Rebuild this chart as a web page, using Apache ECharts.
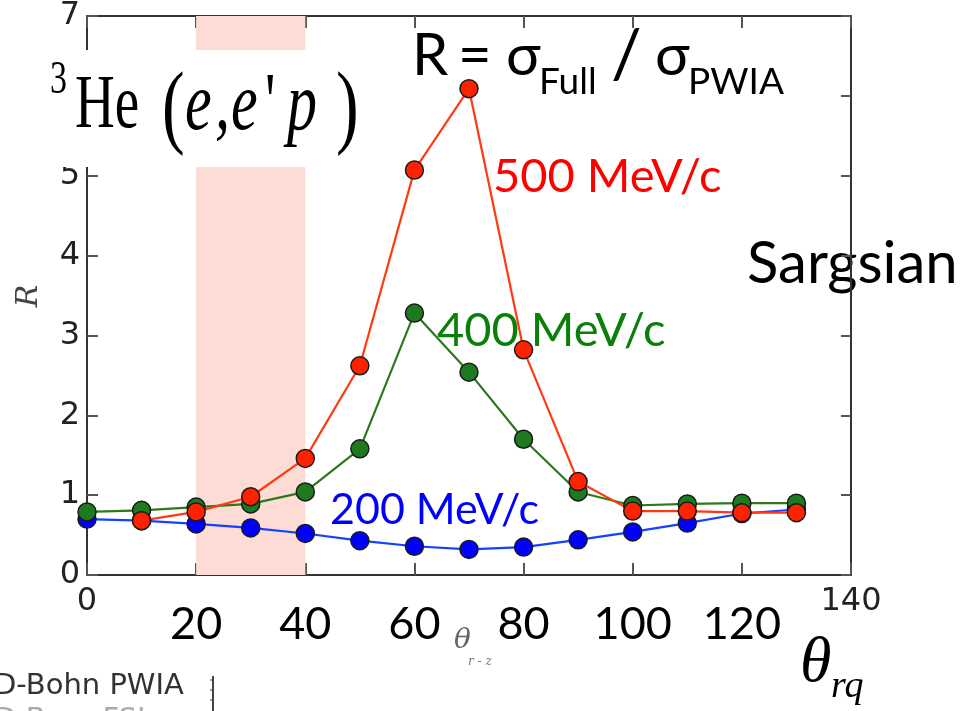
<!DOCTYPE html>
<html><head><meta charset="utf-8">
<script src="https://cdn.jsdelivr.net/npm/echarts@6/dist/echarts.min.js"></script>
<style>html,body{margin:0;padding:0;background:#fff}#c{width:979px;height:711px}</style>
</head><body><div id="c"></div>
<script>
var angles = [0,10,20,30,40,50,60,70,80,90,100,110,120,130];
var r200 = [0.70,0.68,0.64,0.59,0.52,0.43,0.36,0.32,0.35,0.44,0.54,0.65,0.77,0.82];
var r400 = [0.79,0.81,0.85,0.89,1.04,1.58,3.28,2.54,1.70,1.04,0.87,0.89,0.90,0.90];
var r500 = [null,0.68,0.79,0.98,1.46,2.62,5.07,6.09,2.82,1.17,0.80,0.80,0.78,0.78];
var xTicks = [0,20,40,60,80,100,120,140];
var yTicks = [0,1,2,3,4,5,6,7];
var bigXLabels = ['20','40','60','80','100','120'];

function pairs(arr){ return angles.map(function(a,i){ return [a, arr[i]]; }); }

var chart = echarts.init(document.getElementById('c'));
var axisCol = '#333';
function mkSeries(name, arr, line, fill){
  return {
    name: name, type: 'line', data: pairs(arr), xAxisIndex: 0, yAxisIndex: 0,
    symbol: 'circle', symbolSize: 18, connectNulls: false,
    lineStyle: {color: line, width: 2.2},
    itemStyle: {color: fill, borderColor: '#1a1a1a', borderWidth: 1.5},
    emphasis: {disabled: true}, animation: false
  };
}
var option = {
  animation: false,
  grid: {left: 87, right: 128, top: 16, bottom: 136},
  xAxis: [
    {type: 'value', min: 0, max: 140, interval: 20, position: 'bottom',
     axisLine: {show: true, onZero: false, lineStyle: {color: axisCol, width: 2}},
     axisTick: {show: true, inside: true, length: 12, lineStyle: {color: '#555', width: 2}},
     splitLine: {show: false},
     axisLabel: {margin: 11, fontFamily: 'DejaVu Sans', fontSize: 32, color: '#222',
       formatter: function(v){ return (v === 0 || v === 140) ? String(v) : ''; }}},
    {type: 'value', min: 0, max: 140, interval: 20, position: 'top',
     axisLine: {show: true, onZero: false, lineStyle: {color: axisCol, width: 2}},
     axisTick: {show: true, inside: true, length: 12, lineStyle: {color: '#555', width: 2}},
     splitLine: {show: false}, axisLabel: {show: false}},
    {type: 'value', min: 0, max: 140, interval: 20, position: 'bottom',
     axisLine: {show: false, onZero: false}, axisTick: {show: false}, splitLine: {show: false},
     axisLabel: {margin: 27, fontFamily: 'Lato', fontSize: 45, color: '#000',
       formatter: function(v){ var s = String(v); return bigXLabels.indexOf(s) >= 0 ? s : ''; }}}
  ],
  yAxis: [
    {type: 'value', min: 0, max: 7, interval: 1, position: 'left',
     axisLine: {show: true, onZero: false, lineStyle: {color: axisCol, width: 2}},
     axisTick: {show: true, inside: true, length: 11, lineStyle: {color: '#555', width: 2}},
     splitLine: {show: false},
     axisLabel: {margin: 7, fontFamily: 'DejaVu Sans', fontSize: 32, color: '#222'}},
    {type: 'value', min: 0, max: 7, interval: 1, position: 'right',
     axisLine: {show: true, onZero: false, lineStyle: {color: axisCol, width: 2}},
     axisTick: {show: true, inside: true, length: 10, lineStyle: {color: '#555', width: 2}},
     splitLine: {show: false}, axisLabel: {show: false}}
  ],
  series: [
    {type: 'line', data: [], xAxisIndex: 0, yAxisIndex: 0, silent: true,
     markArea: {silent: true, itemStyle: {color: '#fcdcd5'}, data: [[{xAxis: 20}, {xAxis: 40}]]}},
    mkSeries('200', r200, '#1440ff', '#0000ff'),
    mkSeries('400', r400, '#2a7a1a', '#1e7a1e'),
    mkSeries('500', r500, '#ff3a12', '#ff2200')
  ],
  graphic: [
    {type: 'text', z: 0, x: 493, y: 177, style: {text: '500 MeV/c', font: '47px Lato', fill: '#ff0000', verticalAlign: 'middle'}},
    {type: 'text', z: 0, x: 437, y: 331, style: {text: '400 MeV/c', font: '47px Lato', fill: '#0a800a', verticalAlign: 'middle'}},
    {type: 'text', z: 0, x: 330, y: 510, style: {text: '200 MeV/c', font: '43px Lato', fill: '#0000ff', verticalAlign: 'middle'}},
    {type: 'text', z: 0, x: 747, y: 264, style: {text: 'Sargsian', font: '58px Lato', fill: '#000', verticalAlign: 'middle'}},
    {type: 'text', z: 50, x: 412, y: 56, style: {text: 'R', font: '58px Lato', fill: '#000', verticalAlign: 'middle'}},
    {type: 'text', z: 50, x: 458, y: 56, style: {text: '=', font: '58px Lato', fill: '#000', verticalAlign: 'middle'}},
    {type: 'text', z: 50, x: 506, y: 56, style: {text: 'σ', font: '58px Lato', fill: '#000', verticalAlign: 'middle'}},
    {type: 'text', z: 50, x: 539, y: 82, style: {text: 'Full', font: '37px Lato', fill: '#000', verticalAlign: 'middle'}},
    {type: 'text', z: 50, x: 611, y: 56, style: {text: '/', font: '68px Lato', fill: '#000', verticalAlign: 'middle'}},
    {type: 'text', z: 50, x: 655, y: 56, style: {text: 'σ', font: '58px Lato', fill: '#000', verticalAlign: 'middle'}},
    {type: 'text', z: 50, x: 688, y: 82, style: {text: 'PWIA', font: '37px Lato', fill: '#000', verticalAlign: 'middle'}},
    {type: 'text', z: 50, x: 29, y: 296, rotation: Math.PI / 2,
     style: {text: 'R', font: 'italic 30px "DejaVu Serif"', fill: '#444', align: 'center', verticalAlign: 'middle'}},
    {type: 'text', z: 50, x: 454, y: 641, style: {text: 'θ', font: 'italic 28px "DejaVu Serif"', fill: '#666', verticalAlign: 'middle'}},
    {type: 'text', z: 50, x: 468, y: 662, style: {text: 'r - z', font: 'italic 12px "DejaVu Serif"', fill: '#777', verticalAlign: 'middle'}},
    {type: 'text', z: 50, x: 800, y: 664, style: {text: 'θ', font: 'italic 64px "Liberation Serif"', fill: '#000', verticalAlign: 'middle'}},
    {type: 'text', z: 50, x: 831, y: 687, style: {text: 'rq', font: 'italic 38px "Liberation Serif"', fill: '#000', verticalAlign: 'middle'}},
    {type: 'text', z: 50, x: -6, y: 686, style: {text: 'D-Bohn PWIA', font: '29px "DejaVu Sans"', fill: '#333', verticalAlign: 'middle'}},
    {type: 'text', z: 50, x: -6, y: 720, style: {text: 'D-Born FSI', font: '29px "DejaVu Sans"', fill: '#aaa', verticalAlign: 'middle'}},
    {type: 'rect', z: 60, shape: {x: 0, y: 655, width: 200, height: 17}, style: {fill: '#fff'}},
    {type: 'line', z: 60, shape: {x1: 213, y1: 676, x2: 213, y2: 711}, style: {stroke: '#444', lineWidth: 2}},
    {type: 'line', z: 60, shape: {x1: 210, y1: 680, x2: 213, y2: 680}, style: {stroke: '#444', lineWidth: 1}},
    {type: 'line', z: 60, shape: {x1: 210, y1: 690, x2: 213, y2: 690}, style: {stroke: '#444', lineWidth: 1}},
    {type: 'line', z: 60, shape: {x1: 210, y1: 700, x2: 213, y2: 700}, style: {stroke: '#444', lineWidth: 1}},
    {type: 'rect', z: 100, shape: {x: 0, y: 50, width: 370, height: 117}, style: {fill: '#fff'}},
    {type: 'group', z: 101, x: 0, y: 107, scaleY: 1.38, children: [
      {type: 'text', z: 101, x: 50, y: -19, style: {text: '3', font: '34px "Liberation Serif"', fill: '#000', verticalAlign: 'middle'}},
      {type: 'text', z: 101, x: 75, y: 0, style: {text: 'He', font: '55px "Liberation Serif"', fill: '#000', verticalAlign: 'middle'}},
      {type: 'text', z: 101, x: 162, y: 3, style: {text: '(', font: '68px "Liberation Serif"', fill: '#000', verticalAlign: 'middle'}},
      {type: 'text', z: 101, x: 185, y: 0, style: {text: 'e', font: 'italic 60px "Liberation Serif"', fill: '#000', verticalAlign: 'middle'}},
      {type: 'text', z: 101, x: 215, y: 0, style: {text: ',', font: 'italic 60px "Liberation Serif"', fill: '#000', verticalAlign: 'middle'}},
      {type: 'text', z: 101, x: 231, y: 0, style: {text: 'e', font: 'italic 60px "Liberation Serif"', fill: '#000', verticalAlign: 'middle'}},
      {type: 'text', z: 101, x: 265, y: 0, style: {text: '\'', font: '58px "Liberation Serif"', fill: '#000', verticalAlign: 'middle'}},
      {type: 'text', z: 101, x: 287, y: 0, style: {text: 'p', font: 'italic 60px "Liberation Serif"', fill: '#000', verticalAlign: 'middle'}},
      {type: 'text', z: 101, x: 336, y: 3, style: {text: ')', font: '68px "Liberation Serif"', fill: '#000', verticalAlign: 'middle'}}
    ]}
  ]
};
chart.setOption(option);
</script></body></html>
